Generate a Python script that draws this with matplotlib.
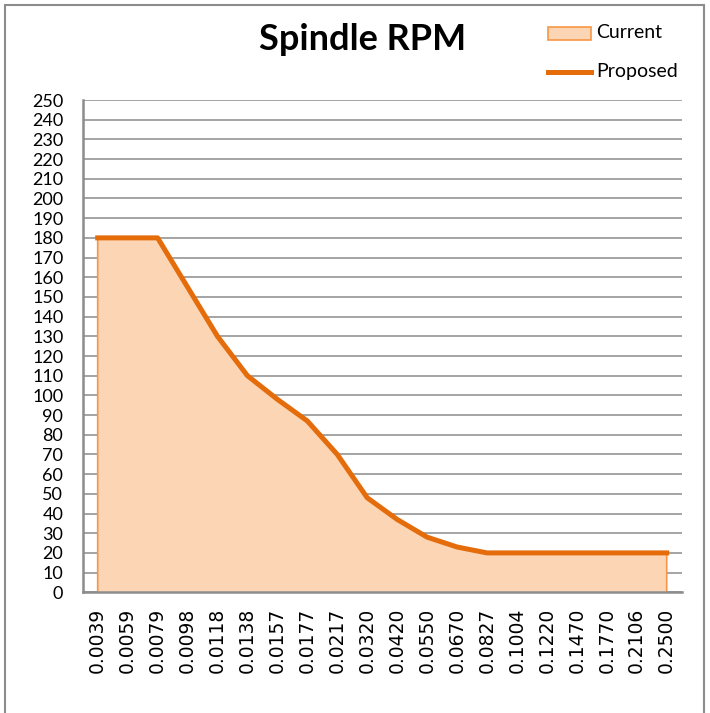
import matplotlib.pyplot as plt
from matplotlib.patches import Rectangle
from matplotlib.lines import Line2D

categories = ['0.0039', '0.0059', '0.0079', '0.0098', '0.0118', '0.0138', '0.0157',
              '0.0177', '0.0217', '0.0320', '0.0420', '0.0550', '0.0670', '0.0827',
              '0.1004', '0.1220', '0.1470', '0.1770', '0.2106', '0.2500']
current = [180, 180, 180, 155, 130, 110, 98, 87, 70, 48, 37, 28, 23, 20, 20, 20, 20, 20, 20, 20]
proposed = [180, 180, 180, 155, 130, 110, 98, 87, 70, 48, 37, 28, 23, 20, 20, 20, 20, 20, 20, 20]

fill_c = '#FCD5B5'
edge_c = '#F79646'
line_c = '#E46C0A'
grid_c = '#8C8C8C'

fig = plt.figure(figsize=(7.10, 7.13), dpi=100)
ax = fig.add_axes([0.1165, 0.1693, 0.8436, 0.6904])

x = list(range(len(categories)))
ax.fill_between(x, current, 0, facecolor=fill_c, edgecolor='none', zorder=2)
ax.plot([x[0]] + x + [x[-1]], [0] + current + [0], color=edge_c, lw=1.2, zorder=3)
ax.plot(x, proposed, color=line_c, lw=3.6, solid_joinstyle='round', zorder=4)

ax.set_xlim(-0.5, len(categories) - 0.5)
ax.set_ylim(0, 250)
ax.set_yticks(range(0, 251, 10))
ax.set_yticklabels([str(v) for v in range(0, 251, 10)], family='Lato', fontsize=13)
ax.set_xticks(x)
ax.set_xticklabels(categories, rotation=90, fontsize=13.5, family='DejaVu Sans')
ax.tick_params(axis='y', length=0, pad=14)
ax.tick_params(axis='x', length=0, pad=11)
ax.yaxis.grid(True, color=grid_c, lw=1.1, zorder=1)
ax.set_axisbelow(True)
for s in ['top', 'right']:
    ax.spines[s].set_visible(False)
for s in ['left', 'bottom']:
    ax.spines[s].set_color(grid_c)
    ax.spines[s].set_linewidth(1.8)
    ax.spines[s].set_zorder(5)

fig.text(0.51, 0.944, 'Spindle RPM', ha='center', va='center',
         family='Lato', weight='bold', fontsize=26)

# legend
fig.add_artist(Rectangle((548 / 710, 1 - 40 / 713), 43 / 710, 13 / 713,
                         facecolor=fill_c, edgecolor=edge_c, lw=1.2,
                         transform=fig.transFigure))
fig.text(596 / 710, 1 - 33 / 713, 'Current', va='center', ha='left',
         family='Lato', fontsize=14)
fig.add_artist(Line2D([548 / 710, 591 / 710], [1 - 72 / 713, 1 - 72 / 713],
                      color=line_c, lw=3.6, transform=fig.transFigure))
fig.text(596 / 710, 1 - 72 / 713, 'Proposed', va='center', ha='left',
         family='Lato', fontsize=14)

# outer chart border
fig.add_artist(Rectangle((5 / 710, -0.02), 699 / 710, 1.02 - 5 / 713,
                         facecolor='none', edgecolor='#8C8C8C', lw=1.5,
                         transform=fig.transFigure))

fig.savefig('out.png', dpi=100)
